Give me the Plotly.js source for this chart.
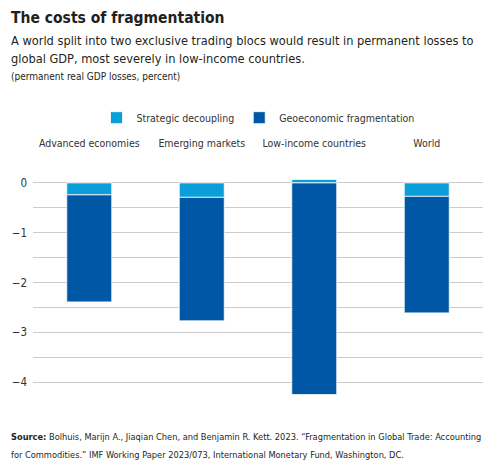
<!DOCTYPE html>
<html>
<head>
<meta charset="utf-8">
<script src="https://cdn.plot.ly/plotly-3.0.1.min.js"></script>
<style>
  html, body { margin: 0; padding: 0; background: #fff; }
  #chart { width: 500px; height: 473px; }
</style>
</head>
<body>
<div id="chart"></div>
<script>
// data
const regions = ['Advanced economies', 'Emerging markets', 'Low-income countries', 'World'];
const strategicDecoupling = [-0.24, -0.29, 0.07, -0.27];
const geoFragmentation = [-2.15, -2.48, -4.25, -2.34];
const yTickVals = [0.5, 0, -0.5, -1, -1.5, -2, -2.5, -3, -3.5, -4, -4.5];
const yTickText = ['', '0', '', '\u22121', '', '\u22122', '', '\u22123', '', '\u22124', ''];

const FONT = '"DejaVu Sans Condensed", "Liberation Sans Narrow", Roboto, sans-serif';
const INK = '#231f20';

let traces = [
    {
        x: regions,
        y: strategicDecoupling,
        name: 'Strategic decoupling',
        type: 'bar',
        marker: { color: '#0a9fdb', line: { color: '#ffffff', width: 0.8 } },
        width: 0.4
    },
    {
        x: regions,
        y: geoFragmentation,
        name: 'Geoeconomic fragmentation',
        type: 'bar',
        marker: { color: '#0057a6', line: { color: '#ffffff', width: 0.8 } },
        width: 0.4
    }
];

// helper: pixel position -> paper coords (plot spans x 33..483, y 157.5..407.5)
function py(px) { return (407.5 - px) / 250; }
function pxX(px) { return (px - 33) / 450; }

function textLine(text, ypx, size, bold) {
    return {
        text: bold ? '<b>' + text + '</b>' : text,
        xref: 'paper', yref: 'paper',
        x: pxX(9), y: py(ypx),
        xanchor: 'left', yanchor: 'middle',
        showarrow: false,
        font: { family: FONT, size: size, color: INK }
    };
}

let layout = {
    width: 500,
    height: 473,
    margin: { l: 33, r: 17, t: 157.5, b: 65.5 },
    paper_bgcolor: '#ffffff',
    plot_bgcolor: '#ffffff',
    barmode: 'relative',
    showlegend: true,
    legend: {
        orientation: 'h',
        x: 0.5, xanchor: 'center',
        y: py(117), yanchor: 'middle',
        font: { family: FONT, size: 10.5, color: '#333333' },
        traceorder: 'normal'
    },
    xaxis: {
        side: 'top',
        showgrid: false,
        showline: false,
        ticks: '',
        tickfont: { family: FONT, size: 10.5, color: '#333333' },
        ticklabelstandoff: 8
    },
    yaxis: {
        range: [-4.5, 0.5],
        tickvals: yTickVals,
        ticktext: yTickText,
        showgrid: true,
        gridcolor: '#cccccc',
        gridwidth: 1,
        zeroline: false,
        showline: false,
        ticks: '',
        ticklabelstandoff: 5,
        tickfont: { family: FONT, size: 11.5, color: '#333333' }
    },
    annotations: [
        textLine('The costs of fragmentation', 17, 15.5, true),
        textLine('A world split into two exclusive trading blocs would result in permanent losses to', 40, 12.7, false),
        textLine('global GDP, most severely in low-income countries.', 58, 12.7, false),
        textLine('(permanent real GDP losses, percent)', 76, 10, false),
        textLine('<b>Source:</b> Bolhuis, Marijn A., Jiaqian Chen, and Benjamin R. Kett. 2023. \u201cFragmentation in Global Trade: Accounting', 437, 9.2, false),
        textLine('for Commodities.\u201d IMF Working Paper 2023/073, International Monetary Fund, Washington, DC.', 455, 9.2, false)
    ]
};

Plotly.newPlot('chart', traces, layout, { staticPlot: true, displayModeBar: false });
</script>
</body>
</html>
